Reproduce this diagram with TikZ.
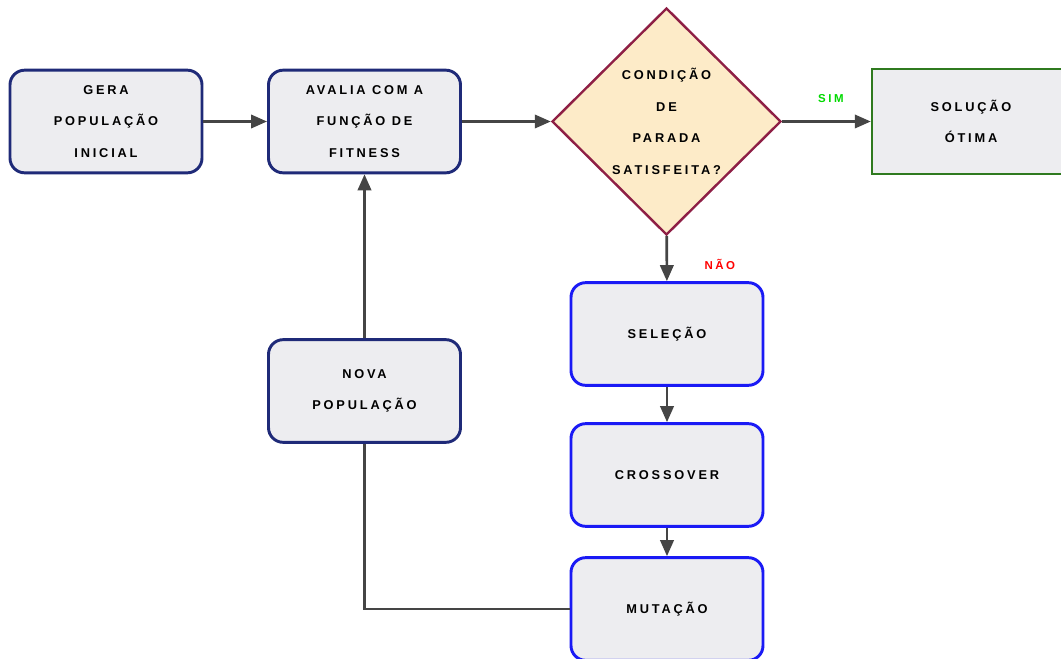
\documentclass[tikz,border=0pt]{standalone}
\usepackage{fontspec}
\usepackage{tikz}
\usetikzlibrary{positioning}
\usetikzlibrary{shapes.geometric}
\usetikzlibrary{arrows.meta}
\usepackage{xcolor}

\newfontfamily\boxfont[LetterSpace=22]{Liberation Sans}
\definecolor{navyline}{HTML}{1F2A78}
\definecolor{blueline}{HTML}{1A1AF5}
\definecolor{wineline}{HTML}{8E1F45}
\definecolor{greenline}{HTML}{2F7A1F}
\definecolor{boxfill}{HTML}{EDEDF0}
\definecolor{peach}{HTML}{FDEBC8}
\definecolor{arrowgray}{HTML}{454545}

\begin{document}
\begin{tikzpicture}[
    x=0.75pt, y=-0.75pt,
    label/.style={font=\boxfont\bfseries\fontsize{9.6}{23.6}\selectfont, align=center},
    process/.style={label, draw=navyline, line width=2.2pt, fill=boxfill, rounded corners=11pt,
        minimum width=144pt, minimum height=77pt},
    operator/.style={process, draw=blueline},
    decision/.style={label, diamond, draw=wineline, line width=1.8pt, fill=peach, inner sep=0pt,
        minimum width=171.75pt, minimum height=170.25pt},
    result/.style={label, draw=greenline, line width=1.8pt, fill=boxfill,
        minimum width=148.5pt, minimum height=79pt},
    link/.style={draw=arrowgray, line width=2pt},
    flow/.style={link, -{Triangle[length=12pt, width=10pt]}},
    answer/.style={font=\boxfont\bfseries\fontsize{8.6}{10}\selectfont}
]
    \useasboundingbox (0,0) rectangle (1061,659);

    % Main line
    \node[process] (gera) at (106,121.5) {GERA\\POPULAÇÃO\\INICIAL};
    \node[process] (avalia) at (364.5,121.5) {AVALIA COM A\\FUNÇÃO DE\\FITNESS};
    \node[decision] (cond) at (666.5,121.5) {CONDIÇÃO\\DE\\PARADA\\SATISFEITA?};
    \node[result] (otima) at (971,121.5) {SOLUÇÃO\\ÓTIMA};

    % Genetic operators
    \node[operator] (selecao) at (667,334) {SELEÇÃO};
    \node[operator] (cross) at (667,475) {CROSSOVER};
    \node[operator] (mutacao) at (667,609) {MUTAÇÃO};
    \node[process] (nova) at (364.5,391) {NOVA\\POPULAÇÃO};

    % Arrows
    \draw[flow] (gera) -- (avalia);
    \draw[flow] (avalia) -- (cond);
    \draw[flow] (cond) -- (otima) node[answer, text=green!85!black, pos=0.55, above=10pt] {SIM};
    \draw[flow] (cond) -- (selecao) node[answer, text=red, pos=0.62, right=24pt] {NÃO};
    \draw[flow] (selecao) -- (cross);
    \draw[flow] (cross) -- (mutacao);
    \draw[link] (mutacao.west) -- (mutacao.west -| nova) -- (nova.south);
    \draw[flow] (nova) -- (avalia);
\end{tikzpicture}
\end{document}
